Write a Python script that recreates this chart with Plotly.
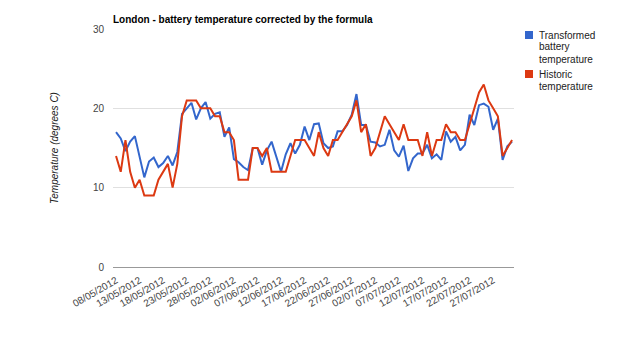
import datetime as dt
import plotly.graph_objects as go

# ---- data ----
start_date = dt.date(2012, 5, 8)
n_days = 85
dates = [(start_date + dt.timedelta(days=i)).isoformat() for i in range(n_days)]

transformed_battery = [
    17.0, 16.2, 14.6, 15.8, 16.5, 13.7, 11.3, 13.3, 13.8, 12.6,
    13.1, 14.0, 12.8, 14.5, 19.3, 20.0, 20.7, 18.6, 20.0, 20.8,
    18.7, 19.3, 19.5, 16.4, 17.6, 13.6, 13.2, 12.6, 12.2, 15.0,
    15.0, 12.9, 14.7, 15.8, 13.9, 12.0, 14.2, 15.6, 14.3, 15.4,
    17.7, 16.0, 18.0, 18.1, 15.6, 15.0, 15.2, 17.1, 17.1, 17.9,
    19.2, 21.8, 17.9, 17.9, 15.8, 15.7, 15.2, 15.4, 17.3, 14.7,
    13.9, 15.3, 12.1, 13.7, 14.3, 14.3, 15.4, 13.7, 14.2, 13.5,
    17.1, 15.8, 16.4, 14.7, 15.4, 19.2, 17.9, 20.4, 20.6, 20.2,
    17.3, 18.7, 13.5, 15.2, 15.8,
]
historic = [
    14, 12, 16, 12, 10, 11, 9, 9, 9, 11,
    12, 13, 10, 13, 19, 21, 21, 21, 20, 20,
    20, 19, 19, 17, 17, 16, 11, 11, 11, 15,
    15, 14, 15, 12, 12, 12, 12, 14, 16, 16,
    16, 15, 14, 17, 15, 14, 16, 16, 17, 18,
    19, 21, 17, 18, 14, 15, 17, 19, 18, 17,
    16, 18, 16, 16, 16, 14, 17, 14, 16, 16,
    18, 17, 17, 16, 16, 18, 20, 22, 23, 21,
    20, 19, 14, 15, 16,
]

tick_dates = [
    "2012-05-08", "2012-05-13", "2012-05-18", "2012-05-23", "2012-05-28",
    "2012-06-02", "2012-06-07", "2012-06-12", "2012-06-17", "2012-06-22",
    "2012-06-27", "2012-07-02", "2012-07-07", "2012-07-12", "2012-07-17",
    "2012-07-22", "2012-07-27",
]
tick_labels = [
    "08/05/2012", "13/05/2012", "18/05/2012", "23/05/2012", "28/05/2012",
    "02/06/2012", "07/06/2012", "12/06/2012", "17/06/2012", "22/06/2012",
    "27/06/2012", "02/07/2012", "07/07/2012", "12/07/2012", "17/07/2012",
    "22/07/2012", "27/07/2012",
]

series_names = ["Transformed battery temperature", "Historic temperature"]
legend_lines = [["Transformed", "battery", "temperature"], ["Historic", "temperature"]]
colors = ["#3366cc", "#dc3912"]

title_text = "London - battery temperature corrected by the formula"
y_title = "Temperature (degrees C)"

# ---- layout geometry (pixels) ----
W, H = 620, 353
PL, PR, PT, PB = 113, 514, 29, 267
pw, ph = PR - PL, PB - PT


def px_x(px):
    return (px - PL) / pw


def px_y(py):
    return (PB - py) / ph


FONT = "Liberation Sans, Arial, sans-serif"

fig = go.Figure()
for name, vals, col in zip(series_names, [transformed_battery, historic], colors):
    fig.add_trace(go.Scatter(
        x=dates, y=vals, name=name, mode="lines",
        line=dict(color=col, width=2), showlegend=False,
    ))

shapes = []
annotations = []
legend_tops = [31, 70]
for lines, col, top in zip(legend_lines, colors, legend_tops):
    shapes.append(dict(
        type="rect", xref="paper", yref="paper",
        x0=px_x(525), x1=px_x(533), y0=px_y(top + 8), y1=px_y(top),
        fillcolor=col, line=dict(width=0),
    ))
    for k, line in enumerate(lines):
        annotations.append(dict(
            text=line, xref="paper", yref="paper",
            x=px_x(537), y=px_y(top + 4 + k * 12),
            xanchor="left", yanchor="middle", showarrow=False,
            font=dict(family=FONT, size=10, color="#222"),
        ))

fig.update_layout(
    width=W, height=H,
    margin=dict(l=PL, r=W - PR, t=PT, b=H - PB, pad=0),
    paper_bgcolor="white", plot_bgcolor="white",
    font=dict(family=FONT, size=10, color="#444"),
    title=dict(
        text="<b>" + title_text + "</b>",
        x=PL / W, xanchor="left", xref="container",
        y=1 - 19 / H, yanchor="middle", yref="container",
        font=dict(family=FONT, size=10, color="#000"),
    ),
    xaxis=dict(
        type="date",
        range=["2012-05-07 08:36", "2012-07-31 10:00"],
        tickmode="array", tickvals=tick_dates, ticktext=tick_labels,
        tickangle=-30, showgrid=False, showline=False, zeroline=False,
        ticks="", ticklabelstandoff=5,
        tickfont=dict(family=FONT, size=10, color="#444"),
    ),
    yaxis=dict(
        range=[0, 30], tickmode="array", tickvals=[0, 10, 20, 30],
        ticktext=["0", "10", "20", "30"],
        showgrid=True, gridcolor="#e0e0e0", gridwidth=1,
        zeroline=True, zerolinecolor="#999", zerolinewidth=1,
        showline=False, ticks="", ticklabelstandoff=8,
        tickfont=dict(family=FONT, size=10, color="#444"),
        title=dict(text=y_title, standoff=32,
                   font=dict(family=FONT, size=10, color="#222", style="italic")),
    ),
    shapes=shapes,
    annotations=annotations,
    showlegend=False,
)

fig.write_html("out.html")
